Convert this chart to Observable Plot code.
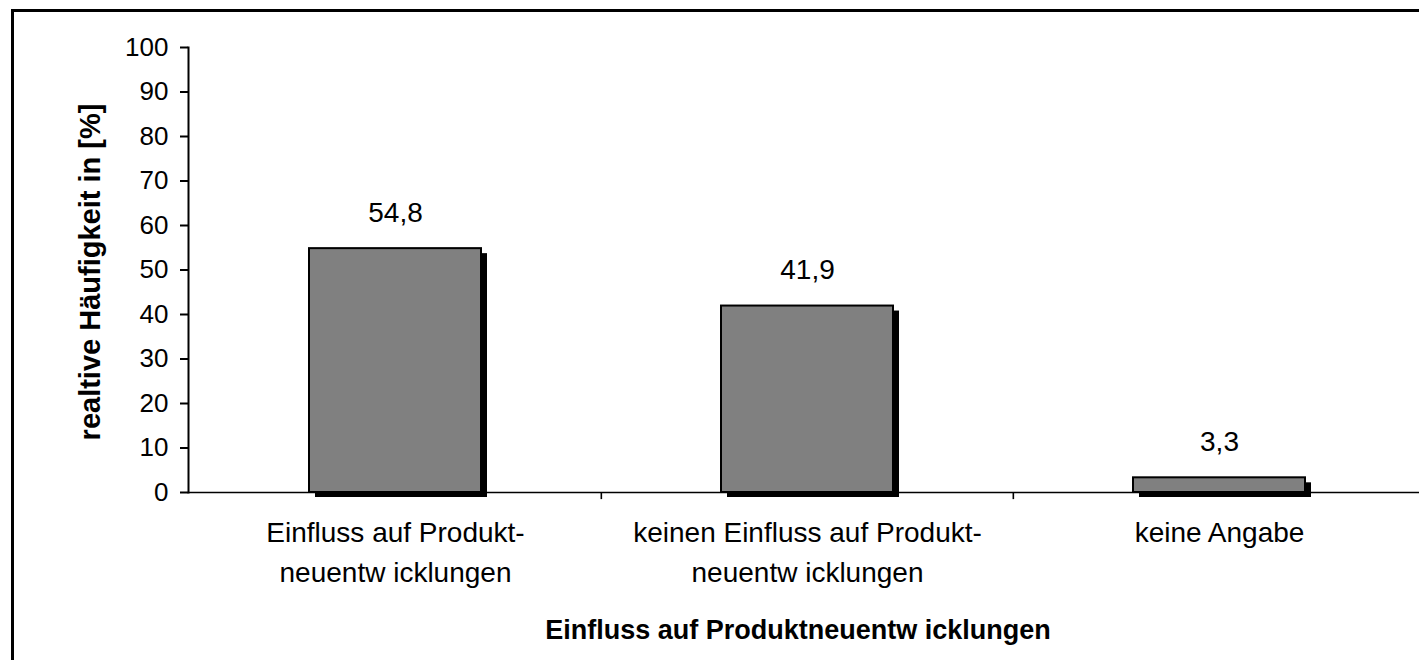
<!DOCTYPE html>
<html>
<head>
<meta charset="utf-8">
<script src="https://cdn.jsdelivr.net/npm/d3@7"></script>
<script src="https://cdn.jsdelivr.net/npm/@observablehq/plot@0.6"></script>
<style>
  html, body { margin: 0; padding: 0; background: #fff; overflow: hidden; width: 1419px; height: 660px; }
  #border { position: absolute; left: 11px; top: 9px; width: 1500px; height: 800px; border: 3px solid #000; box-sizing: border-box; }
  #chart { position: absolute; left: 0; top: 0; }
  #chart g[aria-label="y-title"] text { letter-spacing: 1.1px; }
  #chart g[aria-label="x-title"] text { letter-spacing: 0.3px; }
</style>
</head>
<body>
<div id="border"></div>
<div id="chart"></div>
<script>
const categories = [
  "Einfluss auf Produkt-\nneuentw icklungen",
  "keinen Einfluss auf Produkt-\nneuentw icklungen",
  "keine Angabe"
];
const values = [54.8, 41.9, 3.3];
const yTicks = [0, 10, 20, 30, 40, 50, 60, 70, 80, 90, 100];
const yTitle = "realtive Häufigkeit in [%]";
const xTitle = "Einfluss auf Produktneuentw icklungen";

const data = categories.map((c, i) => ({category: c, value: values[i]}));
const de = d3.formatLocale({decimal: ",", thousands: ".", grouping: [3], currency: ["", " €"]});
const fmt = de.format(".1f");

const W = 1425, H = 660, mL = 188, mR = 0, mT = 47, mB = 168;
const step = (W - mL - mR) / categories.length;
const font = "'Liberation Sans', Arial, sans-serif";

const chart = Plot.plot({
  width: W,
  height: H,
  marginLeft: mL,
  marginRight: mR,
  marginTop: mT,
  marginBottom: mB,
  style: {fontFamily: font, background: "transparent", maxWidth: "none", overflow: "visible", color: "#000"},
  x: {type: "band", domain: categories, paddingInner: 0.583, paddingOuter: 0.2915},
  y: {domain: [0, 100]},
  marks: [
    Plot.barY(data, {x: "category", y: "value", fill: "#000", dx: 6, dy: 5}),
    Plot.barY(data, {x: "category", y: "value", fill: "#808080", stroke: "#000", strokeWidth: 2}),
    Plot.ruleY([0], {stroke: "#000", strokeWidth: 1.6}),
    Plot.frame({anchor: "left", stroke: "#000", strokeWidth: 2}),
    Plot.ruleX(categories.slice(1), {x: d => d, y1: 0, y2: -1.6, dx: -step / 2, stroke: "#000", strokeWidth: 1.6}),
    Plot.axisY({ticks: yTicks, tickSize: 8, tickPadding: 12, fontSize: 26, strokeWidth: 2, label: null, tickFormat: d => d}),
    Plot.axisX({tickSize: 0, tickPadding: 21, fontSize: 28, lineHeight: 1.43, label: null}),
    Plot.text(data, {x: "category", y: "value", text: d => fmt(d.value), dy: -36, fontSize: 28, fill: "#000"}),
    Plot.text([yTitle], {ariaLabel: "y-title", frameAnchor: "left", textAnchor: "middle", lineAnchor: "middle", rotate: -90, dx: -98, dy: 2, fontSize: 29, fontWeight: "bold", fill: "#000"}),
    Plot.text([xTitle], {ariaLabel: "x-title", frameAnchor: "bottom", textAnchor: "middle", lineAnchor: "middle", dx: -9, dy: 138, fontSize: 27, fontWeight: "bold", fill: "#000"})
  ]
});
document.getElementById("chart").appendChild(chart);
</script>
</body>
</html>
